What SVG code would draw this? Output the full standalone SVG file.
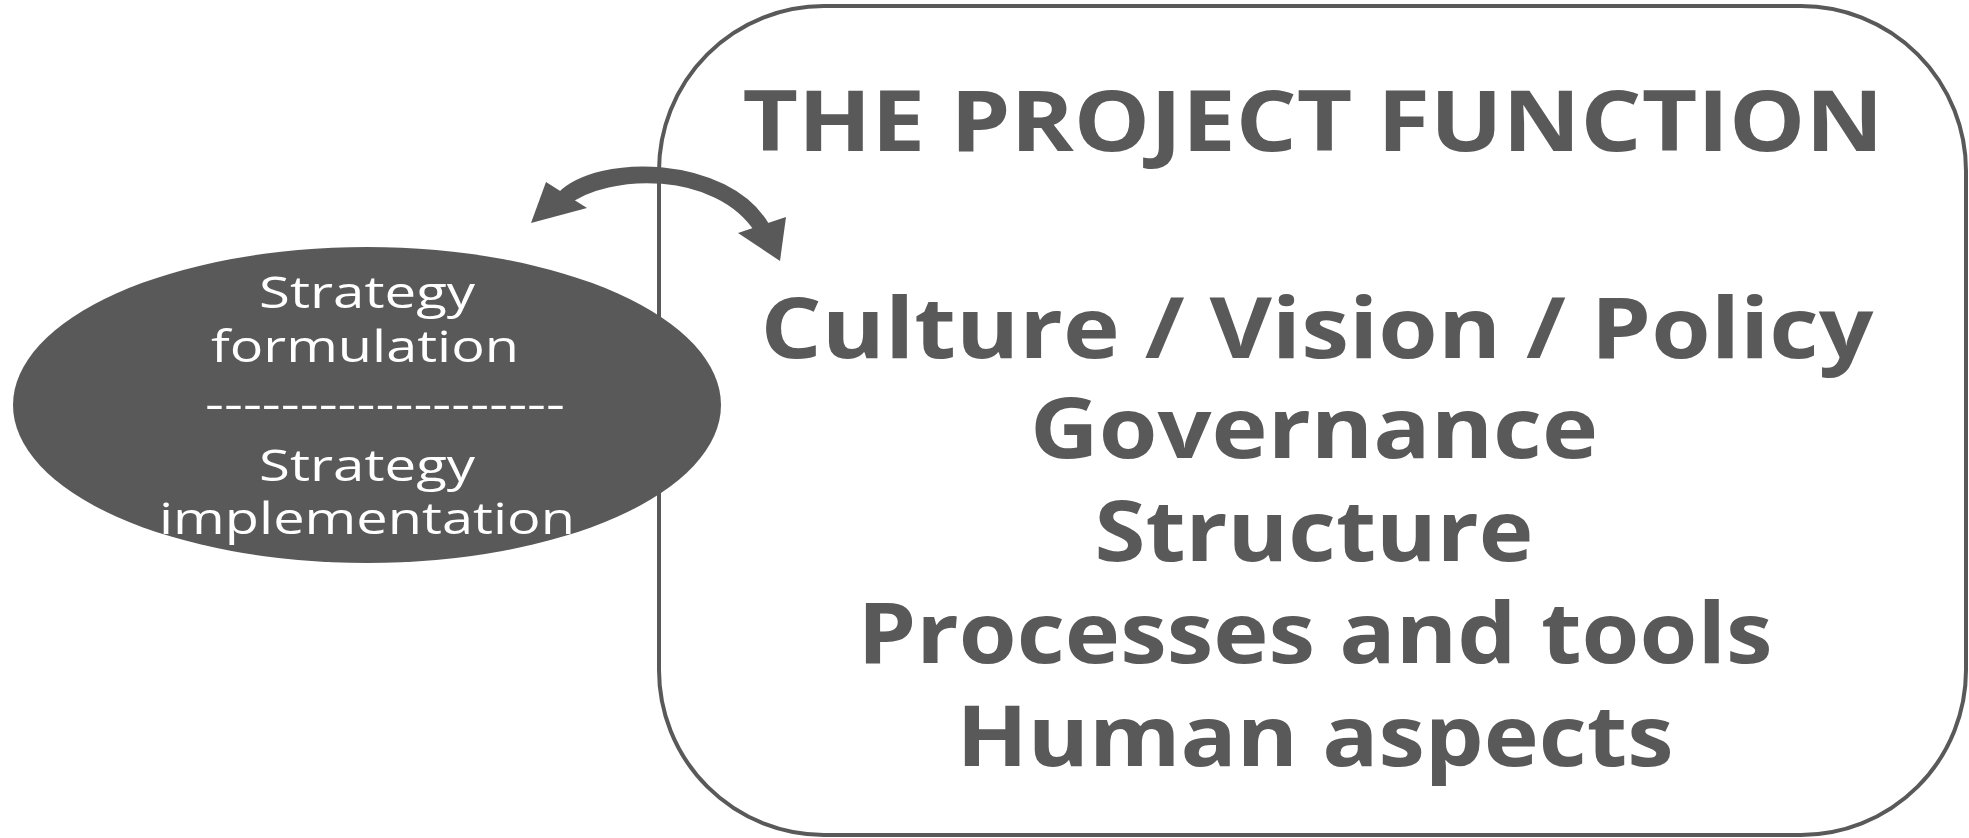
<svg xmlns="http://www.w3.org/2000/svg" width="1969" height="838" viewBox="0 0 1969 838">
  <style>
    .big { font-family: "Open Sans", "Noto Sans", "Liberation Sans", sans-serif; font-weight: 700; font-size: 84px; fill: #595959; text-anchor: middle; }
    .small { font-family: "Open Sans", "Noto Sans", "Liberation Sans", sans-serif; font-weight: 400; font-size: 43px; fill: #ffffff; text-anchor: middle; }
    .ink { fill: #595959; }
  </style>

  <!-- project function frame -->
  <g id="project-function">
    <rect x="659" y="6" width="1307" height="829" rx="165" ry="165" fill="#ffffff" stroke="#595959" stroke-width="4"/>
    <text class="big" x="1313" y="151" textLength="1141" lengthAdjust="spacingAndGlyphs">THE PROJECT FUNCTION</text>
    <text class="big" x="1317" y="358" textLength="1113" lengthAdjust="spacingAndGlyphs">Culture / Vision / Policy</text>
    <text class="big" x="1314" y="458" textLength="568" lengthAdjust="spacingAndGlyphs">Governance</text>
    <text class="big" x="1314" y="561" textLength="439" lengthAdjust="spacingAndGlyphs">Structure</text>
    <text class="big" x="1315" y="663" textLength="915" lengthAdjust="spacingAndGlyphs">Processes and tools</text>
    <text class="big" x="1315" y="766" textLength="717" lengthAdjust="spacingAndGlyphs">Human aspects</text>
  </g>

  <!-- strategy ellipse -->
  <g id="strategy">
    <ellipse class="ink" cx="367" cy="405" rx="354" ry="158"/>
    <text class="small" x="367" y="308" textLength="216" lengthAdjust="spacingAndGlyphs">Strategy</text>
    <text class="small" x="365" y="362" textLength="308" lengthAdjust="spacingAndGlyphs">formulation</text>
    <text class="small" x="385" y="419" textLength="360" lengthAdjust="spacingAndGlyphs">-------------------</text>
    <text class="small" x="367" y="481" textLength="216" lengthAdjust="spacingAndGlyphs">Strategy</text>
    <text class="small" x="367" y="534" textLength="416" lengthAdjust="spacingAndGlyphs">implementation</text>
  </g>

  <!-- two-way link: thick curved band with a head at each end -->
  <g id="connectors">
    <path class="ink" d="M558.7,194.2 C598,154 728,157 767.5,224.6 L756.5,231.4 C716,169 608,172 567.3,203.8 Z" stroke="#595959" stroke-width="3" stroke-linejoin="round"/>
    <polygon class="ink" points="531,223 546,182 587,208"/>
    <polygon class="ink" points="780,261 738,233 786,217"/>
  </g>
</svg>
